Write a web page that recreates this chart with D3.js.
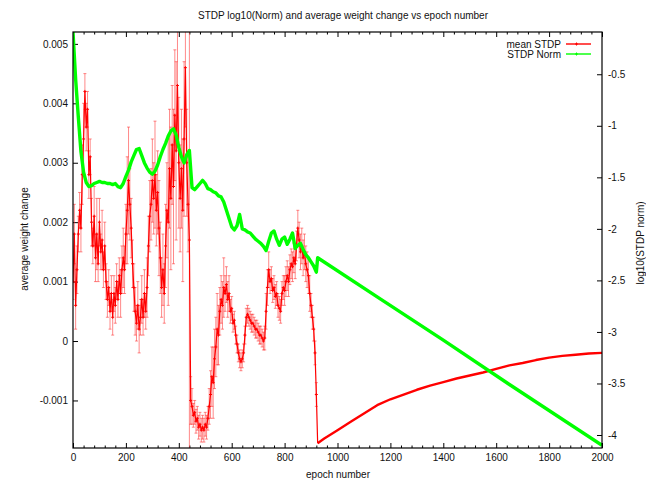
<!DOCTYPE html>
<html>
<head>
<meta charset="utf-8">
<script src="https://cdn.jsdelivr.net/npm/d3@7"></script>
<style>
  body { margin: 0; background: #fff; }
  svg { display: block; }
  text { font-family: "Liberation Sans", Arial, Helvetica, sans-serif; font-size: 10px; fill: #111; }
</style>
</head>
<body>
<svg id="chart" width="646" height="484"></svg>
<script>
// ---- data ---------------------------------------------------------------
// Mean STDP weight change (units of 1e-3), sampled every 5 epochs from 0 to 920
const meanDenseStep = 5;
const meanDenseE3 = [
  1.0, 1.8, 0.6, 1.2, 1.8, 2.2, 1.9, 2.8, 3.4, 4.2,
  3.6, 3.9, 2.8, 3.1, 2.0, 1.6, 2.1, 1.4, 1.8, 1.3,
  2.0, 1.5, 1.7, 1.2, 1.6, 1.0, 0.7, 0.9, 0.5, 0.8,
  0.4, 0.8, 0.6, 1.0, 0.7, 1.1, 0.8, 1.2, 1.4, 1.2,
  1.8, 2.2, 2.7, 2.3, 1.9, 1.3, 0.9, 0.5, 0.3, 0.6,
  0.2, 0.4, 0.7, 0.4, 0.8, 0.5, 0.9, 1.6, 2.1, 2.3,
  2.7, 2.4, 2.8, 2.2, 2.5, 1.9, 1.4, 0.9, 1.2, 0.8,
  1.6, 2.2, 2.0, 2.9, 2.4, 3.3, 2.6, 3.8, 3.2, 4.3,
  3.0, 2.4, 2.9, 2.2, 3.4, 4.6, 3.0, 2.3, 1.7, -1.0,
  -1.1, -1.25, -1.2, -1.35, -1.3, -1.45, -1.4, -1.5, -1.45, -1.5,
  -1.4, -1.45, -1.3, -1.1, -0.9, -0.6, -0.7, -0.3, -0.1, 0.2,
  0.1, 0.5, 0.7, 0.6, 0.9, 0.8, 0.95, 0.7, 0.8, 0.5,
  0.55, 0.3, 0.35, 0.1, -0.05, -0.2, -0.3, -0.35, -0.3, -0.2,
  0.1, 0.4, 0.45, 0.4, 0.35, 0.3, 0.3, 0.25, 0.2, 0.2,
  0.15, 0.1, 0.1, 0.05, 0.0, 0.05, 0.5, 0.9, 1.2, 1.0,
  1.05, 0.85, 0.9, 0.75, 0.8, 0.6, 0.55, 0.5, 0.8, 0.9,
  0.85, 1.0, 1.1, 1.0, 1.2, 1.3, 1.25, 1.4, 1.3, 1.6,
  1.9, 1.7, 1.5, 1.6, 1.4, 1.5, 1.3, 1.2, 1.1, 0.8,
  0.6, 0.4, 0.2, -0.2, -0.9
];
// Standard error of the mean STDP change (units of 1e-3), same epochs
const meanErrE3 = [
  0.3, 0.5, 0.4, 0.4, 0.3, 0.3, 0.4, 0.5, 0.6, 0.3,
  0.4, 0.3, 0.4, 0.3, 0.4, 0.3, 0.5, 0.4, 0.6, 0.3,
  0.4, 0.3, 0.5, 0.3, 0.4, 0.3, 0.3, 0.3, 0.3, 0.3,
  0.3, 0.3, 0.3, 0.3, 0.3, 0.3, 0.4, 0.4, 0.5, 0.4,
  0.5, 0.9, 0.9, 0.6, 0.5, 0.4, 0.4, 0.4, 0.3, 0.4,
  0.4, 0.3, 0.4, 0.3, 0.4, 0.3, 0.5, 0.5, 0.6, 0.6,
  0.7, 0.6, 0.9, 0.6, 0.7, 0.8, 0.6, 0.5, 0.6, 0.5,
  0.7, 0.8, 1.4, 1.0, 1.2, 1.0, 1.3, 1.1, 1.5, 1.0,
  1.1, 0.9, 1.0, 1.2, 1.3, 1.0, 0.9, 0.8, 3.6, 0.4,
  0.3, 0.2, 0.2, 0.2, 0.2, 0.2, 0.2, 0.2, 0.2, 0.2,
  0.2, 0.2, 0.2, 0.3, 0.4, 0.5, 0.6, 0.5, 0.5, 0.6,
  0.5, 0.4, 0.4, 0.4, 0.5, 0.3, 0.3, 0.3, 0.3, 0.2,
  0.2, 0.15, 0.15, 0.15, 0.15, 0.15, 0.15, 0.15, 0.15, 0.15,
  0.15, 0.15, 0.15, 0.15, 0.15, 0.15, 0.15, 0.15, 0.15, 0.15,
  0.15, 0.15, 0.15, 0.15, 0.15, 0.2, 0.3, 0.3, 0.3, 0.2,
  0.2, 0.2, 0.2, 0.2, 0.2, 0.2, 0.2, 0.2, 0.2, 0.2,
  0.25, 0.25, 0.25, 0.25, 0.25, 0.25, 0.25, 0.25, 0.25, 0.25,
  0.3, 0.3, 0.3, 0.3, 0.3, 0.3, 0.3, 0.3, 0.3, 0.3,
  0.2, 0.2, 0.2, 0.2, 0.2
];
// Smooth recovery after the collapse near epoch 925
const meanTailEpochs = [925, 950, 1000, 1050, 1100, 1150, 1200, 1250, 1300, 1350, 1400, 1450,
                        1500, 1550, 1600, 1650, 1700, 1750, 1800, 1850, 1900, 1950, 2000];
const meanTailE3 = [-1.72, -1.64, -1.50, -1.36, -1.22, -1.08, -0.98, -0.90, -0.82, -0.75, -0.69, -0.63,
                    -0.58, -0.53, -0.47, -0.41, -0.37, -0.32, -0.28, -0.25, -0.23, -0.21, -0.20];

// log10 of the STDP norm, sampled every 10 epochs from 0 to 920
const normDenseStep = 10;
const normDense = [
  -0.09, -0.55, -0.91, -1.25, -1.45, -1.55, -1.59, -1.58, -1.56, -1.55,
  -1.54, -1.55, -1.55, -1.56, -1.56, -1.57, -1.56, -1.59, -1.60, -1.56,
  -1.49, -1.43, -1.35, -1.29, -1.23, -1.22, -1.29, -1.36, -1.41, -1.45,
  -1.47, -1.44, -1.38, -1.30, -1.23, -1.17, -1.10, -1.05, -1.03, -1.09,
  -1.21, -1.30, -1.36, -1.28, -1.24, -1.60, -1.62, -1.59, -1.56, -1.53,
  -1.56, -1.61, -1.62, -1.64, -1.65, -1.68, -1.69, -1.74, -1.82, -1.90,
  -1.98, -2.01, -1.97, -1.86, -2.00, -2.01, -2.03, -2.04, -2.07, -2.10,
  -2.12, -2.14, -2.17, -2.21, -2.12, -2.04, -2.02, -2.10, -2.16, -2.10,
  -2.08, -2.15, -2.10, -2.04, -2.19, -2.16, -2.14, -2.20, -2.25, -2.28,
  -2.32, -2.36, -2.42
];
const normTailEpochs = [925, 1150, 1400, 1650, 2000];
const normTail = [-2.28, -2.66, -3.08, -3.51, -4.10];

// axis ticks
const xTickValues = [0, 200, 400, 600, 800, 1000, 1200, 1400, 1600, 1800, 2000];
const xMinorStep = 40;
const leftTickValues = [-0.001, 0, 0.001, 0.002, 0.003, 0.004, 0.005];
const rightTickValues = [-4, -3.5, -3, -2.5, -2, -1.5, -1, -0.5];

// ---- assemble series ----------------------------------------------------
const meanDense = meanDenseE3.map((v, i) => ({
  epoch: i * meanDenseStep, value: v * 1e-3, err: meanErrE3[i] * 1e-3
}));
const meanTail = meanTailEpochs.map((e, i) => ({ epoch: e, value: meanTailE3[i] * 1e-3 }));

const normAll = normDense.map((v, i) => ({ epoch: i * normDenseStep, value: v }))
  .concat(normTailEpochs.map((e, i) => ({ epoch: e, value: normTail[i] })));

// ---- layout -------------------------------------------------------------
const plot = { left: 73, right: 602, top: 32, bottom: 448 };
const svg = d3.select("#chart");

const x = d3.scaleLinear().domain([0, 2000]).range([plot.left, plot.right]);
const yL = d3.scaleLinear().domain([-0.0018, 0.0052]).range([plot.bottom, plot.top]);
const yR = d3.scaleLinear().domain([-4.126, -0.09]).range([plot.bottom, plot.top]);

svg.append("defs").append("clipPath").attr("id", "plot-clip")
  .append("rect")
  .attr("x", plot.left).attr("y", plot.top)
  .attr("width", plot.right - plot.left).attr("height", plot.bottom - plot.top);

// ---- axes (gnuplot style: inward ticks, mirrored x ticks) ---------------
const fmtLeft = d => String(+d.toFixed(3));
const fmtRight = d => String(d);

function styleAxis(g) {
  g.select(".domain").remove();
  g.selectAll(".tick line").attr("stroke", "#000");
  g.selectAll(".tick text").attr("fill", "#111")
    .style("font-family", '"Liberation Sans", Arial, sans-serif').style("font-size", "10px");
}

const minorX = d3.range(0, 2001, xMinorStep).filter(v => !xTickValues.includes(v));

svg.append("g").attr("transform", `translate(0,${plot.bottom})`)
  .call(d3.axisBottom(x).tickValues(xTickValues).tickFormat(d3.format("d")).tickSize(-5).tickPadding(6))
  .call(styleAxis);
svg.append("g").attr("transform", `translate(0,${plot.bottom})`)
  .call(d3.axisBottom(x).tickValues(minorX).tickFormat("").tickSize(-2.5))
  .call(styleAxis);
svg.append("g").attr("transform", `translate(0,${plot.top})`)
  .call(d3.axisTop(x).tickValues(xTickValues).tickFormat("").tickSize(-5))
  .call(styleAxis);
svg.append("g").attr("transform", `translate(0,${plot.top})`)
  .call(d3.axisTop(x).tickValues(minorX).tickFormat("").tickSize(-2.5))
  .call(styleAxis);

svg.append("g").attr("transform", `translate(${plot.left},0)`)
  .call(d3.axisLeft(yL).tickValues(leftTickValues).tickFormat(fmtLeft).tickSize(-5).tickPadding(5))
  .call(styleAxis);
svg.append("g").attr("transform", `translate(${plot.right},0)`)
  .call(d3.axisRight(yR).tickValues(rightTickValues).tickFormat(fmtRight).tickSize(-5).tickPadding(6))
  .call(styleAxis);

// ---- data marks ---------------------------------------------------------
const marks = svg.append("g").attr("clip-path", "url(#plot-clip)");

// error bars (with small caps) of the mean STDP change
const errBars = marks.append("g")
  .attr("stroke", "rgba(255,40,40,0.55)").attr("stroke-width", 1).attr("fill", "none");
errBars.selectAll("path").data(meanDense).join("path")
  .attr("d", d => {
    const cx = x(d.epoch), lo = yL(d.value - d.err), hi = yL(d.value + d.err);
    return `M${cx},${lo}V${hi}M${cx - 1.5},${lo}H${cx + 1.5}M${cx - 1.5},${hi}H${cx + 1.5}`;
  });

const meanLine = d3.line().x(d => x(d.epoch)).y(d => yL(d.value));
marks.append("path").datum(meanDense.concat([meanTail[0]]))
  .attr("d", meanLine).attr("fill", "none").attr("stroke", "#ff0000")
  .attr("stroke-width", 1.2).attr("stroke-linejoin", "round");
marks.append("path").datum(meanTail)
  .attr("d", meanLine).attr("fill", "none").attr("stroke", "#ff0000")
  .attr("stroke-width", 2.4).attr("stroke-linejoin", "round");

// small point markers on the mean STDP samples
marks.append("g").attr("stroke", "#ff0000").attr("stroke-width", 1)
  .selectAll("path").data(meanDense).join("path")
  .attr("d", d => {
    const cx = x(d.epoch), cy = yL(d.value);
    return `M${cx - 1.5},${cy}H${cx + 1.5}M${cx},${cy - 1.5}V${cy + 1.5}`;
  });

const normLine = d3.line().x(d => x(d.epoch)).y(d => yR(d.value));
marks.append("path").datum(normAll)
  .attr("d", normLine).attr("fill", "none").attr("stroke", "#00ff00")
  .attr("stroke-width", 3.4).attr("stroke-linejoin", "round");

// ---- border -------------------------------------------------------------
svg.append("rect")
  .attr("x", plot.left).attr("y", plot.top)
  .attr("width", plot.right - plot.left).attr("height", plot.bottom - plot.top)
  .attr("fill", "none").attr("stroke", "#000").attr("stroke-width", 1.2);

// ---- legend -------------------------------------------------------------
const legend = [
  { label: "mean STDP", color: "#ff0000" },
  { label: "STDP Norm", color: "#00ff00" }
];
const lg = svg.append("g").selectAll("g").data(legend).join("g")
  .attr("transform", (d, i) => `translate(0,${44 + i * 10})`);
lg.append("text").attr("x", 561).attr("y", 0).attr("dy", "0.35em")
  .attr("text-anchor", "end").text(d => d.label);
lg.append("line").attr("x1", 566).attr("x2", 591).attr("y1", 0).attr("y2", 0)
  .attr("stroke", d => d.color).attr("stroke-width", 1.4);
lg.append("path").attr("d", "M576.5,-1.5V1.5M575,0H578")
  .attr("stroke", d => d.color).attr("stroke-width", 1);

// ---- titles -------------------------------------------------------------
svg.append("text").attr("x", 343).attr("y", 15).attr("dy", "0.35em")
  .attr("text-anchor", "middle")
  .text("STDP log10(Norm) and average weight change vs epoch number");
svg.append("text").attr("x", 338).attr("y", 474).attr("dy", "0.35em")
  .attr("text-anchor", "middle").text("epoch number");
svg.append("text").attr("transform", "translate(24,239) rotate(-90)")
  .attr("dy", "0.35em").attr("text-anchor", "middle").text("average weight change");
svg.append("text").attr("transform", "translate(640,243) rotate(-90)")
  .attr("dy", "0.35em").attr("text-anchor", "middle").text("log10(STDP norm)");
</script>
</body>
</html>
